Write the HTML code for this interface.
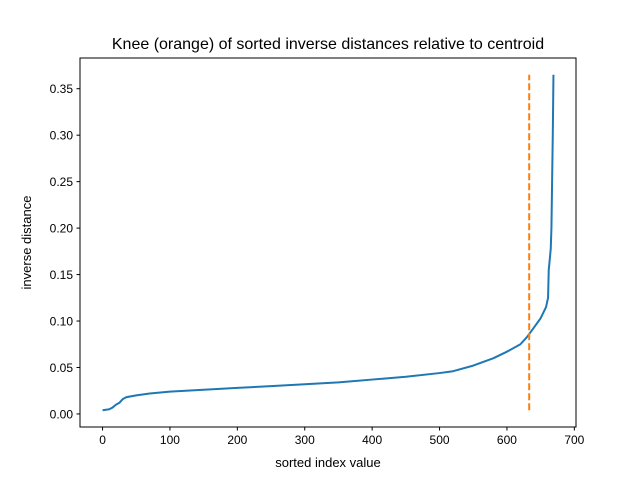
<!DOCTYPE html>
<html><head><meta charset="utf-8"><style>
body{margin:0;background:#fff}
svg{display:block;font-family:"Liberation Sans","DejaVu Sans",sans-serif}
</style></head><body>
<svg id="chart" width="640" height="480">
<rect width="640" height="480" fill="#fff"/>
<text x="328" y="49" font-size="16" text-anchor="middle">Knee (orange) of sorted inverse distances relative to centroid</text>
<g id="plot"></g>
<rect x="80" y="58" width="496" height="369" fill="none" stroke="#000" stroke-width="1"/>
<text x="328" y="467" font-size="13" text-anchor="middle">sorted index value</text>
<text transform="translate(31,242.5) rotate(-90)" font-size="13" text-anchor="middle">inverse distance</text>
</svg>
<script>
const xIdx=[0,10,15,20,25,30,35,50,70,100,150,200,250,300,350,400,450,500,520,550,580,600,620,630,640,650,658,661,662,664,665,666,667,668,669];
const yVal=[0.004,0.005,0.007,0.010,0.012,0.016,0.018,0.020,0.022,0.024,0.026,0.028,0.030,0.032,0.034,0.037,0.040,0.044,0.046,0.052,0.060,0.067,0.075,0.083,0.093,0.103,0.115,0.125,0.155,0.17,0.178,0.2,0.25,0.30,0.365];
const kneeX=633;
const xTicks=[0,100,200,300,400,500,600,700];
const yTicks=[0.00,0.05,0.10,0.15,0.20,0.25,0.30,0.35];
const X0=80,X1=576,Y0=58,Y1=427,xmin=-33.45,xmax=702.45,ymin=-0.01405,ymax=0.38305;
const sx=v=>X0+(v-xmin)/(xmax-xmin)*(X1-X0);
const sy=v=>Y1-(v-ymin)/(ymax-ymin)*(Y1-Y0);
const NS="http://www.w3.org/2000/svg";
const g=document.getElementById('plot');
function mk(t,a){const e=document.createElementNS(NS,t);for(const k in a)e.setAttribute(k,a[k]);g.appendChild(e);return e;}
xTicks.forEach(v=>{
 const l=mk('line',{x1:sx(v),x2:sx(v),y1:Y1,y2:Y1+3.5,stroke:'#000'});
 
 
 const t=mk('text',{x:sx(v),y:Y1+17,'font-size':12,'text-anchor':'middle'});t.textContent=v;
 
 
});
yTicks.forEach(v=>{
 const l=mk('line',{x1:X0-3.5,x2:X0,y1:sy(v),y2:sy(v),stroke:'#000'});
 
 
 const t=mk('text',{x:X0-7,y:sy(v)+4.5,'font-size':12,'text-anchor':'end'});t.textContent=v.toFixed(2);
 
 
});
const p=mk('polyline',{points:xIdx.map((x,i)=>sx(x)+','+sy(yVal[i])).join(' '),fill:'none',stroke:'#1f77b4','stroke-width':2,'stroke-linejoin':'round'});


const k=mk('line',{x1:sx(kneeX),x2:sx(kneeX),y1:sy(Math.min(...yVal)),y2:sy(Math.max(...yVal)),stroke:'#ff7f0e','stroke-width':2,'stroke-dasharray':'7,3'});


</script>
</body></html>
